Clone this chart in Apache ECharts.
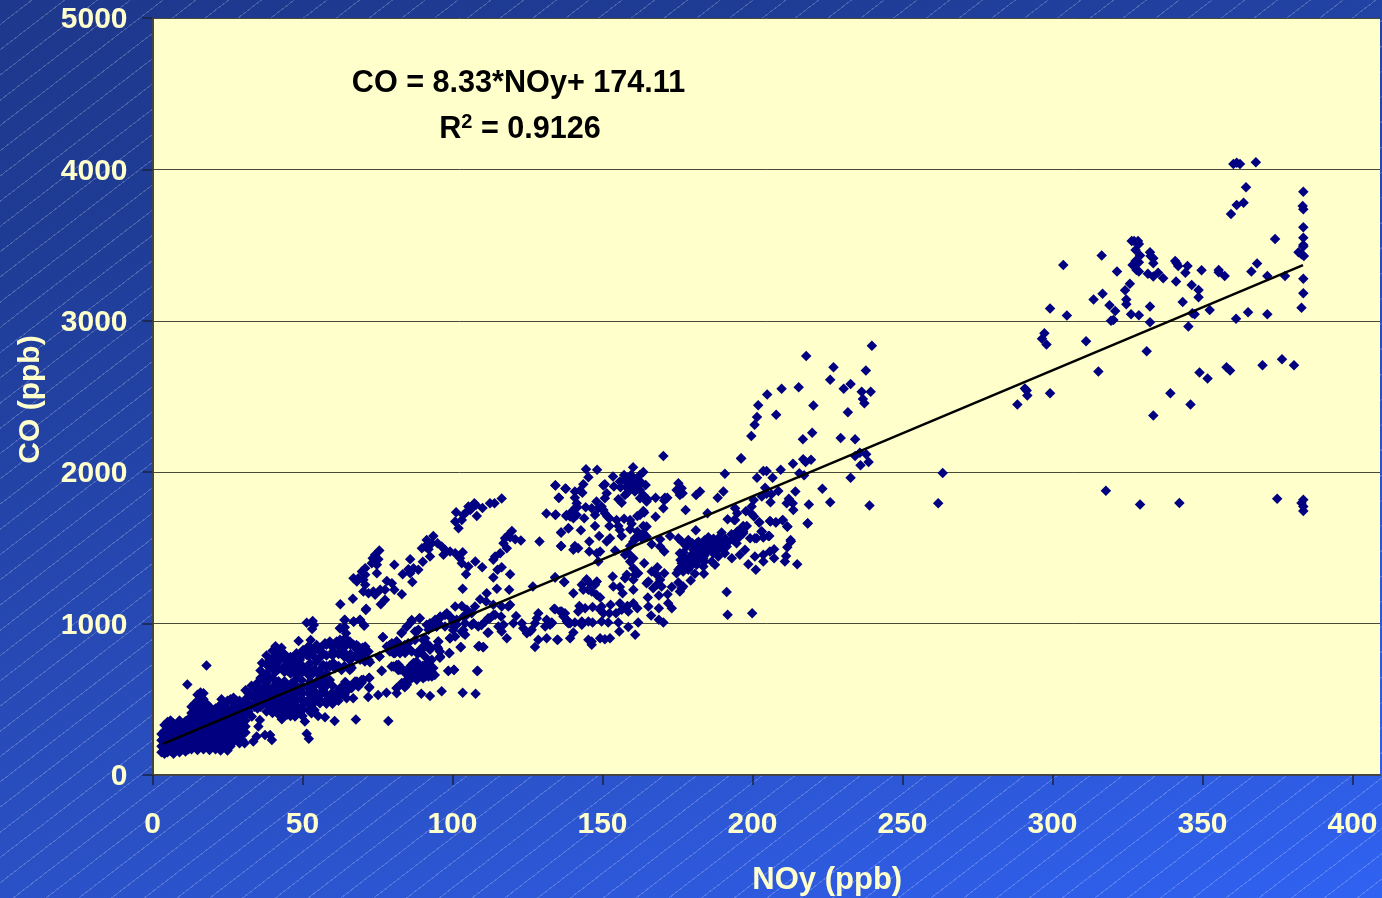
<!DOCTYPE html>
<html>
<head>
<meta charset="utf-8">
<style>
html,body{margin:0;padding:0;width:1382px;height:898px;overflow:hidden;
background:
 repeating-linear-gradient(142.4deg, rgba(255,255,255,0) 0, rgba(255,255,255,0) 19px, rgba(255,255,255,.2) 19px, rgba(255,255,255,.2) 20px),
 linear-gradient(162deg,#1d388c 0%,#1f3c96 20%,#2a50c4 65%,#3062f2 100%);}
#c{width:1382px;height:898px;}
</style>
<script src="https://cdn.jsdelivr.net/npm/echarts@6/dist/echarts.min.js"></script>
</head>
<body>
<div id="c"></div>
<script>
const xTickValues=[0,50,100,150,200,250,300,350,400];
const yTickValues=[0,1000,2000,3000,4000,5000];
const trendNOy=[3.5,383.5];
const trendCO=[205,3368];

const blobLow=[[3,150],[3,190],[3,230],[3,270],[4,140],[4,170],[4,210],[4,250],[4,290],[4,330],[5,150],[5,190],[5,230],[5,270],[5,310],[5,350],[7,140],[7,180],[7,220],[7,260],[7,300],[7,340],[9,150],[9,190],[9,230],[9,270],[9,310],[9,360],[11,155],[11,195],[11,235],[11,275],[11,315],[11,355],[13,170],[13,210],[13,250],[13,290],[13,330],[13,370],[13,410],[13,450],[15,165],[15,205],[15,245],[15,285],[15,325],[15,365],[15,405],[15,445],[15,490],[15,530],[17,170],[17,210],[17,250],[17,290],[17,330],[17,370],[17,410],[17,450],[17,500],[17,540],[19,165],[19,205],[19,245],[19,285],[19,325],[19,365],[19,405],[19,450],[21,170],[21,210],[21,250],[21,290],[21,330],[21,370],[21,410],[21,440],[23,175],[23,215],[23,255],[23,295],[23,335],[23,375],[23,415],[23,470],[23,500],[25,200],[25,240],[25,280],[25,320],[25,360],[25,400],[25,440],[25,490],[27,220],[27,260],[27,300],[27,340],[27,380],[27,420],[27,470],[27,510],[29,210],[29,250],[29,290],[29,330],[29,370],[29,410],[29,450],[29,490],[31,280],[31,320],[31,360],[31,400],[31,440],[18,723],[11.6,597],[30.7,210],[33.6,221],[37.5,265],[39.2,265],[39.8,232],[34.7,254],[35.3,320],[35.8,364],[33.1,386],[25,162],[22.7,162],[43.1,368]];
const blobLowFill=[[6,160],[6,200],[6,240],[6,280],[6,320],[6,360],[8,165],[8,205],[8,245],[8,285],[8,325],[10,170],[10,210],[10,250],[10,290],[10,330],[12,170],[12,210],[12,250],[12,290],[12,330],[12,370],[14,190],[14,230],[14,270],[14,310],[14,350],[14,390],[14,430],[14,470],[16,190],[16,230],[16,270],[16,310],[16,350],[16,390],[16,430],[16,470],[16,510],[16,545],[18,190],[18,230],[18,270],[18,310],[18,350],[18,390],[18,430],[18,470],[20,190],[20,230],[20,270],[20,310],[20,350],[20,390],[20,430],[22,190],[22,230],[22,270],[22,310],[22,350],[22,390],[22,430],[22,450],[24,220],[24,260],[24,300],[24,340],[24,380],[24,420],[24,470],[26,190],[26,230],[26,270],[26,310],[26,350],[26,390],[26,430],[26,500],[28,240],[28,280],[28,320],[28,360],[28,400],[28,440],[28,490],[30,230],[30,270],[30,310],[30,350],[30,390],[30,430],[30,470]];
const blobMid=[[31,560],[31,500],[33,590],[33,520],[33,460],[35,610],[35,550],[35,490],[35,440],[36.5,740],[36,690],[37,640],[37,580],[37,520],[37,470],[38,790],[39,760],[39,710],[39,640],[39,570],[39,510],[39,450],[41,850],[41,790],[41,730],[41,680],[41,600],[41,540],[41,480],[41,430],[43,840],[43,780],[44,720],[43,590],[43,530],[43,470],[43,420],[45,750],[45,690],[45,570],[45,510],[45,460],[45,400],[47,690],[32,540],[32,470],[32,420],[34,570],[34,510],[34,450],[36,640],[36,570],[36,510],[36,450],[38,730],[38,670],[38,610],[38,540],[38,480],[38,420],[40,820],[40,760],[40,700],[40,640],[40,570],[40,510],[40,450],[40,410],[42,810],[42,750],[42,700],[42,620],[42,560],[42,500],[42,450],[42,400],[44,800],[44,770],[44,680],[44,620],[44,560],[44,500],[44,440],[44,390],[46,780],[46,730],[46,670],[46,600],[46,540],[46,490],[46,440],[46,390],[48,730],[48,660],[48,590],[48,540],[48,490],[48,440],[48,400],[50,790],[50,680],[50,590],[50,540],[50,490],[50,430],[50,390]];
const blobRight=[[48,804],[50.2,826],[52.5,837],[54.7,859],[56.9,804],[59.1,881],[61.4,881],[63.6,892],[65.8,881],[68,859],[69.7,815],[60.2,815],[63.6,815],[57.5,870],[65.8,760],[71.4,815],[47,760],[49.1,760],[51.4,793],[53.6,815],[55.8,815],[50.2,716],[52.5,738],[54.7,749],[48.6,683],[51.4,683],[56.9,727],[59.1,727],[58,672],[60.8,705],[63,694],[65.8,694],[55.2,672],[53,661],[47.5,628],[49.7,628],[52.5,617],[54.7,617],[56.9,628],[59.1,628],[46.9,573],[49.1,562],[51.9,573],[54.1,551],[56.9,562],[59.7,540],[62.5,529],[64.7,551],[46.9,518],[49.7,507],[52.5,507],[55.2,507],[58,496],[61.4,507],[47.5,463],[50.2,463],[53,463],[55.8,474],[46.9,419],[49.1,419],[47.5,386],[64.7,507],[51.4,1006],[53.4,1017],[53.8,991],[53.2,965],[64,1024],[67.1,1013],[69.1,1024],[70.5,987],[62.5,969],[64.1,976],[64.5,936],[71.1,1090],[76.8,910],[48.7,885],[52.7,892],[75.7,782],[76.4,687],[72.5,745],[70.8,749],[72.2,643],[72.2,577],[71.9,516],[75.2,529],[78,544],[81.4,573],[81.4,540],[64.5,610],[67.5,617],[69.7,628],[69.7,610],[62.5,573],[65.6,588],[66.9,507],[60.7,357],[67.8,366],[78.6,357],[57.5,382],[55.2,390],[53,408],[50.8,353],[51.4,272],[52.1,239]];
const blobRightFill=[[52,850],[52,790],[52,700],[52,660],[52,590],[52,540],[52,480],[52,430],[54,830],[54,780],[54,700],[54,590],[54,530],[54,480],[54,430],[56,840],[56,780],[56,700],[56,650],[56,590],[56,530],[56,480],[58,860],[58,790],[58,720],[58,590],[58,530],[58,470],[60,850],[60,790],[60,590],[60,520],[60,470],[62,860],[62,800],[62,720],[62,560],[62,490],[64,860],[64,780],[64,720],[64,580],[64,530],[66,860],[66,800],[66,720],[68,830],[68,780],[70,790],[70,840]];
const band80=[[89.6,536],[92.5,522],[96.4,553],[103.4,544],[107.7,536],[98.6,687],[100.5,694],[108.2,687],[108.9,852],[110.2,844],[111.7,940],[102.7,844],[98.9,804],[95.8,775],[95.2,837],[95.8,815],[95.2,881],[91.4,716],[93,705],[94.1,661],[90.8,672],[89.1,694],[87.5,672],[86.4,727],[86.9,650],[85.2,661],[84.7,617],[84.1,580],[88,639],[90.2,639],[92.5,661],[79.7,716],[81.4,727],[81.9,694],[83.6,694],[80.8,804],[79.1,815],[82.5,804],[84.1,837],[86.4,815],[88.6,804],[89.7,837],[90.8,782],[91.9,749],[91.4,870],[90.2,892],[92.5,848],[79.1,859],[81.4,881],[84.1,859],[85.2,870],[87.5,892],[83,936],[84.7,980],[86.4,1024],[89.1,1035],[88,947],[92.5,991],[94.1,1013],[95.8,1035],[97.5,1057],[94.7,980],[99.1,1046],[100.2,1013],[103.6,958],[100.2,958],[99.1,903],[103.6,936],[106.4,991],[109.7,991],[111.9,1035],[113.6,1057],[104.1,1046],[106.4,1068],[86,700],[87,710],[88,660],[88,700],[89,670],[90,690],[91,650],[92,690],[93,680],[90,720],[92,730],[88,750]];
const arcs60to120=[[116.4,1826],[114,1795],[112.5,1795],[110,1764],[107.8,1784],[106.4,1762],[107.3,1795],[105.3,1773],[104.8,1740],[105.9,1751],[108.1,1711],[101.2,1736],[103.6,1718],[103.1,1685],[100.9,1674],[102,1630],[119.8,1612],[118.6,1586],[117.5,1564],[117,1531],[118.1,1498],[119.2,1571],[120.9,1557],[122.8,1549],[115.9,1465],[114.2,1443],[113.6,1421],[93.6,1579],[91.4,1553],[93.1,1531],[90.9,1509],[89.8,1498],[92,1491],[95,1531],[92.5,1443],[96.4,1509],[97.5,1487],[97,1454],[99.2,1476],[100.9,1465],[103.4,1471],[102.5,1432],[103.1,1399],[107.6,1410],[105.3,1377],[109.9,1373],[104.5,1326],[103.4,1230],[116.4,1373],[115,1355],[113.6,1304],[119.2,1326],[118.9,1223],[114.8,1230],[126.8,1245],[134.2,1306],[137.3,1274],[75.6,1483],[74.2,1454],[73.4,1432],[75.3,1425],[74.8,1388],[73.1,1399],[70.9,1366],[69.8,1344],[68.6,1300],[70.9,1322],[70.3,1289],[67,1300],[68.1,1278],[74.8,1333],[70.9,1256],[70.3,1212],[72,1201],[73.6,1212],[74.2,1190],[75.9,1223],[77.5,1223],[78.1,1282],[79.8,1267],[80.6,1223],[83.1,1194],[80.6,1388],[85.9,1425],[87,1366],[85.3,1359],[85.9,1333],[83.4,1326],[90.1,1408],[88.6,1355],[86.6,1274],[77.5,1157],[76.1,1128],[66.8,1164],[62.6,1128],[71.2,1098]];
const band60to140=[[64.1,1025],[67,1014],[69.2,1025],[70.6,988],[63.6,970],[62.5,970],[62.5,893],[60.9,871],[63.6,882],[64.8,893],[59.8,849],[62,849],[64.2,849],[67,860],[68.6,849],[70.9,849],[72,816],[60.3,805],[63.6,805],[65.9,761],[68.6,805],[69.2,761],[66.4,706],[59.2,717],[60.3,739],[72,761],[72.3,640],[70.3,629],[68.1,618],[64.2,614],[68.6,585],[66.4,574],[63.1,581],[72.3,581],[76.8,911],[76.4,688],[75.6,783],[78.1,849],[79.8,871],[81.4,882],[83.1,941],[84.8,981],[86.4,1014],[89,1036],[87.5,948],[88.6,959],[91.4,992],[92.5,1003],[94.2,1025],[95.9,1047],[98.1,1069],[93.6,992],[95.3,1003],[92,959],[99.2,1047],[100.9,1113],[103.1,1117],[104.8,1091],[101.4,1025],[103.6,1047],[105.3,1069],[107.5,1113],[109.2,1161],[111.4,1201],[111.2,1146],[113.6,1124],[116.4,1113],[118.6,1113],[119.2,1124],[97.5,981],[100.3,981],[101.4,992],[104.2,1003],[103.1,948],[104.2,926],[99.2,904],[100.9,915],[102.8,845],[108.6,849],[110.3,845],[108.4,688],[98.6,688],[100.5,695],[99,805],[107,1003],[108.6,981],[110.9,1014],[112.5,1036],[114.2,1058],[112,941],[115.3,981],[116.4,948],[117,992],[118.1,904],[116.2,1047],[121.2,1051],[120.3,1003],[123.1,1003],[123.6,970],[124.8,937],[126.4,959],[128.6,893],[127.5,845],[131.4,904],[135.1,893],[125.9,948],[128.6,1069],[128.1,1036],[127.5,1003],[130.9,981],[131.4,1025],[133.1,1003],[133.9,1098],[135.9,1080],[137,1047],[138.1,1014],[139.2,1003],[78.6,849],[80.3,805],[81.4,827],[83.1,849],[84.2,805],[85.9,827],[88.1,805],[89.8,827],[90.9,904],[90.3,849],[92.5,827],[95.3,882],[94.8,849],[95.9,783],[93.1,761],[92,739],[80.3,717],[82,728],[82.5,695],[85.9,717],[87,739],[89.2,717],[91.4,695],[93.6,706],[84.2,673],[86.4,684],[88.6,673],[90.9,673],[93.1,651],[85.9,629],[84.2,618],[88.1,629],[92,651],[83.1,607],[84.8,596],[81.4,574]];
const cloud130to170=[[134.3,1912],[137.8,1890],[135.4,1832],[131.3,1727],[134.4,1720],[137.9,1711],[139.2,1729],[136.2,1601],[138.6,1630],[136.2,1513],[129,1542],[170.3,2107],[144.5,2019],[148.2,2017],[160.2,2033],[163.6,2002],[162.5,1982],[159.5,1982],[157.2,1982],[153.5,1971],[145.3,1967],[143.6,1920],[134.3,1914],[137.6,1892],[150.3,1912],[150.8,1920],[157.2,1949],[155.8,1938],[153.8,1905],[159.2,1927],[160.8,1938],[161.6,1905],[159.7,1894],[160.8,1872],[162.5,1883],[158.3,1865],[157.5,1850],[164.4,1916],[163.6,1850],[162.5,1828],[140.8,1872],[142.5,1879],[143.3,1865],[140.8,1832],[135.5,1832],[151.4,1861],[150.8,1828],[155.3,1821],[156.4,1799],[165,1821],[164.7,1806],[167.7,1832],[170.8,1832],[171.6,1832],[170.6,1813],[148,1806],[141.4,1795],[140.8,1762],[141.6,1769],[144.4,1769],[146.4,1762],[148.6,1762],[149.7,1773],[150.3,1751],[170.3,1762],[163.6,1744],[162.5,1718],[161.6,1711],[163.9,1733],[134.3,1718],[138,1718],[139.2,1707],[140.3,1696],[141.4,1718],[143.9,1696],[147.5,1718],[150.8,1729],[151.6,1707],[152.3,1696],[167.7,1705],[154.7,1685],[157.2,1692],[159.2,1685],[159.7,1659],[147.5,1645],[152.3,1645],[155.3,1645],[155.8,1619],[159.2,1623],[163.6,1645],[164.7,1641],[138.7,1630],[142.8,1617],[136.2,1601],[148.9,1579],[156.4,1579],[161.6,1608],[163.6,1597],[161.9,1575],[160.8,1564],[163.1,1564],[164.7,1575],[169.2,1557],[172.5,1579],[145.6,1542],[152.5,1564],[151.4,1542],[136.2,1513],[140.8,1513],[141.9,1498],[140.3,1487],[145.6,1476],[149.2,1476],[148.1,1465],[154.2,1483],[159.2,1513],[160.3,1542],[158.6,1465],[157.5,1454],[166.4,1524],[169.2,1509],[170.6,1476],[148.6,1410],[160.3,1432],[159.2,1410],[163.9,1399],[158,1900],[159,1960],[160,1890],[161,1950],[162,1920],[158,1950],[156,1900],[163,1930]];
const cloud130to170low=[[134.2,1304],[168.3,1373],[166.4,1344],[168.1,1322],[170.6,1333],[160.3,1366],[160.8,1322],[158.1,1322],[161.9,1333],[157.5,1300],[160.3,1289],[153.4,1311],[144.7,1293],[137.2,1274],[148.1,1278],[147.5,1256],[145.8,1267],[143.1,1256],[143.6,1223],[145.3,1223],[146.4,1212],[148,1190],[149.2,1172],[140.3,1201],[153.6,1245],[155.8,1241],[156.7,1201],[165.3,1278],[164.7,1267],[160.3,1223],[169.2,1289],[168.1,1256],[169.7,1245],[166.9,1234],[173.1,1241],[165.1,1172],[168.8,1186],[171.7,1194],[171.9,1135],[173.1,1102],[165.3,1113],[168.8,1102],[166.2,1054],[168.8,1025],[170.3,1007],[161.9,1007],[158.6,977],[155.6,948],[160.9,926],[134.2,1095],[136.4,1080],[137.5,1069],[138.1,1025],[138.6,1003],[140.8,1007],[143.1,1014],[143.1,992],[145.3,1014],[146.7,1007],[149.7,1014],[151.9,1007],[155.3,1007],[142.3,1117],[141.9,1080],[144.2,1102],[146.7,1109],[149.7,1113],[149.2,1091],[150.3,1069],[152.3,1069],[152.7,1124],[154.5,1069],[155.8,1135],[156.4,1091],[158.3,1117],[158.6,1080],[160.3,1135],[161.6,1102],[132.5,992],[133.1,1007],[140.3,941],[139.2,904],[134.9,893],[145.3,893],[146.4,882],[146.4,860],[149.2,904],[150.8,897],[152.5,904]];
const cluster175to215=[[177.7,1751],[181.1,1617],[175.3,1564],[176.4,1542],[178.6,1553],[175.3,1271],[176.9,1245],[175.8,1212],[191.7,1689],[194.2,1685],[202.2,1667],[205.8,1678],[207.8,1670],[210.1,1685],[211.6,1641],[218.4,1663],[190.3,1872],[188.4,1832],[190.8,1989],[185,1729],[182.5,1872],[181.2,1850],[175.3,1927],[174.7,1883],[176.4,1894],[175.8,1850],[176.7,1861],[189.7,1601],[185.3,1571],[186.9,1553],[188.6,1564],[190.3,1542],[191.4,1509],[181.4,1531],[183.6,1520],[185.8,1509],[188,1520],[189.7,1498],[190.8,1465],[182.5,1487],[180.3,1487],[184.7,1476],[186.9,1465],[188.6,1443],[186.4,1410],[187.5,1388],[181.4,1443],[179.2,1443],[183.6,1432],[177.5,1432],[176.4,1399],[178,1388],[179.7,1399],[181.4,1388],[175.8,1465],[175.3,1355],[176.9,1344],[178.6,1355],[180.8,1329],[183.6,1377],[183.8,1329],[174.7,1333],[179.4,1285],[176.4,1234],[191.4,1208],[191.7,1058],[199.9,1069],[196.2,2090],[193.6,1553],[195.3,1575],[196.9,1597],[196.4,1630],[198.1,1645],[194.7,1531],[193.1,1432],[195.8,1454],[197.5,1487],[198.6,1392],[201.1,1355],[200.8,1443],[203.6,1454],[205.8,1476],[207.2,1491],[207.2,1432],[203.6,1410],[211.2,1447],[210.8,1410],[214.9,1392],[212.8,1542],[211.6,1505],[205.3,1579],[203.1,1608],[201.4,1564],[199.2,1564],[176,1370],[177,1400],[178,1420],[179,1370],[180,1420],[180,1460],[181,1500],[182,1420],[182,1460],[183,1500],[184,1410],[184,1450],[184,1550],[185,1530],[186,1490],[187,1520],[187,1560],[188,1480],[189,1540],[190,1510],[191,1560],[192,1540],[193,1590],[194,1570],[195,1610],[176,1420],[177,1470],[178,1510],[180,1530],[182,1540]];
const arc195to240=[[239.8,2836],[217.9,2767],[227,2693],[237.8,2671],[225.9,2611],[232.7,2583],[230.4,2552],[209.7,2552],[215.4,2561],[204.9,2514],[236.4,2532],[239.4,2532],[236.8,2484],[237.3,2455],[201.9,2442],[220.3,2440],[231.8,2396],[201.5,2365],[207.9,2380],[200.7,2314],[199.6,2239],[219.9,2261],[216.8,2217],[229.4,2226],[234.2,2217],[196.2,2092],[234.2,2107],[235.8,2129],[237.9,2118],[236,2046],[238.7,2068],[216.9,2085],[217.7,2068],[219.5,2083],[213.5,2055],[209.4,2017],[203.6,2008],[204.7,2008],[201.5,1964],[206.7,1964],[215.6,1993],[217.2,1980],[232.7,1964],[263.4,1995],[204.2,1898],[223.3,1890],[214.3,1872],[208.6,1876],[203.1,1839],[204.7,1857],[206.3,1854],[200.4,1817],[206,1802],[212.1,1824],[211.4,1795],[213.4,1795],[218.8,1786],[225.9,1802],[239,1780],[261.9,1795],[213.6,1751],[199.7,1773],[194.2,1762],[194.9,1729],[197.8,1742],[199.7,1725],[200.5,1707],[193.9,1685],[202.3,1670],[206,1674],[207.8,1667],[210,1683],[211.6,1639],[218.4,1661],[196.9,1645],[194.7,1601],[196.9,1608],[195.8,1575],[203,1608],[205.6,1579],[200.8,1564],[203.6,1568],[212.7,1553]];
const highRange=[[360.3,4036],[361.4,4044],[362.5,4036],[367.8,4047],[364.5,3882],[363.7,3780],[361.4,3765],[359.5,3706],[383.6,3853],[383.4,3758],[383.6,3736],[383.6,3618],[383.6,3549],[383.6,3501],[383.6,3490],[382,3453],[383,3439],[383.8,3428],[374.2,3541],[368.2,3378],[366.3,3325],[371.6,3296],[377.5,3296],[383.6,3277],[383.6,3182],[383,3087],[365.2,3057],[371.6,3043],[361.2,3013],[357.4,3296],[355.4,3336],[355.4,3321],[352.4,3072],[349.7,3334],[348.7,3204],[348.7,3156],[347.4,3043],[346.6,3050],[345.3,2962],[343.4,3125],[346.4,3237],[345,3362],[344.3,3318],[341.9,3362],[340.9,3395],[341.4,3380],[341.2,3259],[336.9,3281],[335.2,3318],[333.6,3292],[331.8,3310],[333.6,3380],[333.6,3413],[332.5,3453],[332.7,3428],[329.2,3431],[326.4,3527],[327.2,3527],[328.5,3527],[328.8,3508],[327.7,3468],[327.7,3395],[328.8,3387],[326.7,3369],[328,3336],[328.8,3325],[321.5,3325],[316.4,3431],[303.6,3369],[324.2,3202],[325.8,3244],[324.6,3140],[324.6,3109],[332.5,3094],[326.2,3043],[328.8,3037],[320.9,3065],[319,3103],[316.7,3178],[313.7,3140],[299.2,3081],[304.8,3035],[319.5,3000],[320.3,3006],[332.5,2991],[297.3,2918],[296.5,2881],[298,2843],[311.2,2865],[331.4,2799],[315.3,2665],[349,2658],[351.7,2619],[358,2694],[359.2,2672],[370,2707],[376.5,2746],[380.5,2707],[290.8,2553],[291.4,2540],[291.6,2507],[299.2,2522],[288.3,2447],[339.3,2522],[346,2447],[333.6,2375],[317.8,1877],[329.2,1787],[342.3,1796],[374.9,1825],[383.6,1818],[383,1796],[383.6,1774],[383.6,1743]];

const points=[].concat(blobLow,blobLowFill,blobMid,blobRight,blobRightFill,band80,arcs60to120,band60to140,cloud130to170,cloud130to170low,cluster175to215,arc195to240,highRange);
const cream='#ffffcc';
const ff='"Liberation Sans",Arial,sans-serif';
const chart=echarts.init(document.getElementById('c'),null,{renderer:'canvas'});
chart.setOption({
 animation:false,
 backgroundColor:'transparent',
 grid:{left:152.5,top:18,width:1227.5,height:757,show:true,backgroundColor:cream,borderWidth:0,outerBoundsMode:'none'},
 xAxis:{type:'value',min:0,max:409.17,interval:50,
  name:'NOy (ppb)',nameLocation:'middle',nameGap:90,
  nameTextStyle:{color:cream,fontFamily:ff,fontWeight:'bold',fontSize:31,padding:[0,0,0,122]},
  axisLine:{show:true,lineStyle:{color:'#444',width:2}},
  axisTick:{show:true,length:10,inside:false,lineStyle:{color:'#1a2340',width:1.5},customValues:xTickValues},
  axisLabel:{color:cream,fontFamily:ff,fontWeight:'bold',fontSize:30,margin:35,customValues:xTickValues},
  splitLine:{show:false}},
 yAxis:{type:'value',min:0,max:5000,interval:1000,
  name:'CO (ppb)',nameLocation:'middle',nameGap:107,
  nameTextStyle:{color:cream,fontFamily:ff,fontWeight:'bold',fontSize:30,padding:[0,6,0,0]},
  axisLine:{show:true,lineStyle:{color:'#444',width:2}},
  axisTick:{show:true,length:10,lineStyle:{color:'#1a2340',width:1.5},customValues:yTickValues},
  axisLabel:{color:cream,fontFamily:ff,fontWeight:'bold',fontSize:30,margin:25,customValues:yTickValues,formatter:v=>'{t|'+v+'}',
    rich:{t:{color:cream,fontFamily:ff,fontWeight:'bold',fontSize:30,padding:[4,0,0,0]}}},
  splitLine:{show:true,lineStyle:{color:'#4a4a38',width:1}}},
 series:[
  {type:'scatter',data:points,symbol:'diamond',symbolSize:10.5,itemStyle:{color:'#000080',opacity:1},z:3,large:false,silent:true},
  {type:'line',data:trendNOy.map((x,i)=>[x,trendCO[i]]),symbol:'none',lineStyle:{color:'#000',width:2.5},z:4,silent:true}
 ],
 graphic:[
  {type:'text',z:10,style:{x:518.5,y:84,text:'CO = 8.33*NOy+ 174.11',textAlign:'center',textVerticalAlign:'middle',fill:'#000',fontFamily:ff,fontWeight:'bold',fontSize:30.6}},
  {type:'text',z:10,style:{x:520,y:130,text:'R{s|2} = 0.9126',textAlign:'center',textVerticalAlign:'middle',fill:'#000',fontFamily:ff,fontWeight:'bold',fontSize:30.6,
    rich:{s:{fontFamily:ff,fontWeight:'bold',fontSize:20,verticalAlign:'top',padding:[0,0,16,0],fill:'#000'}}}}
 ]
});
</script>
</body>
</html>
